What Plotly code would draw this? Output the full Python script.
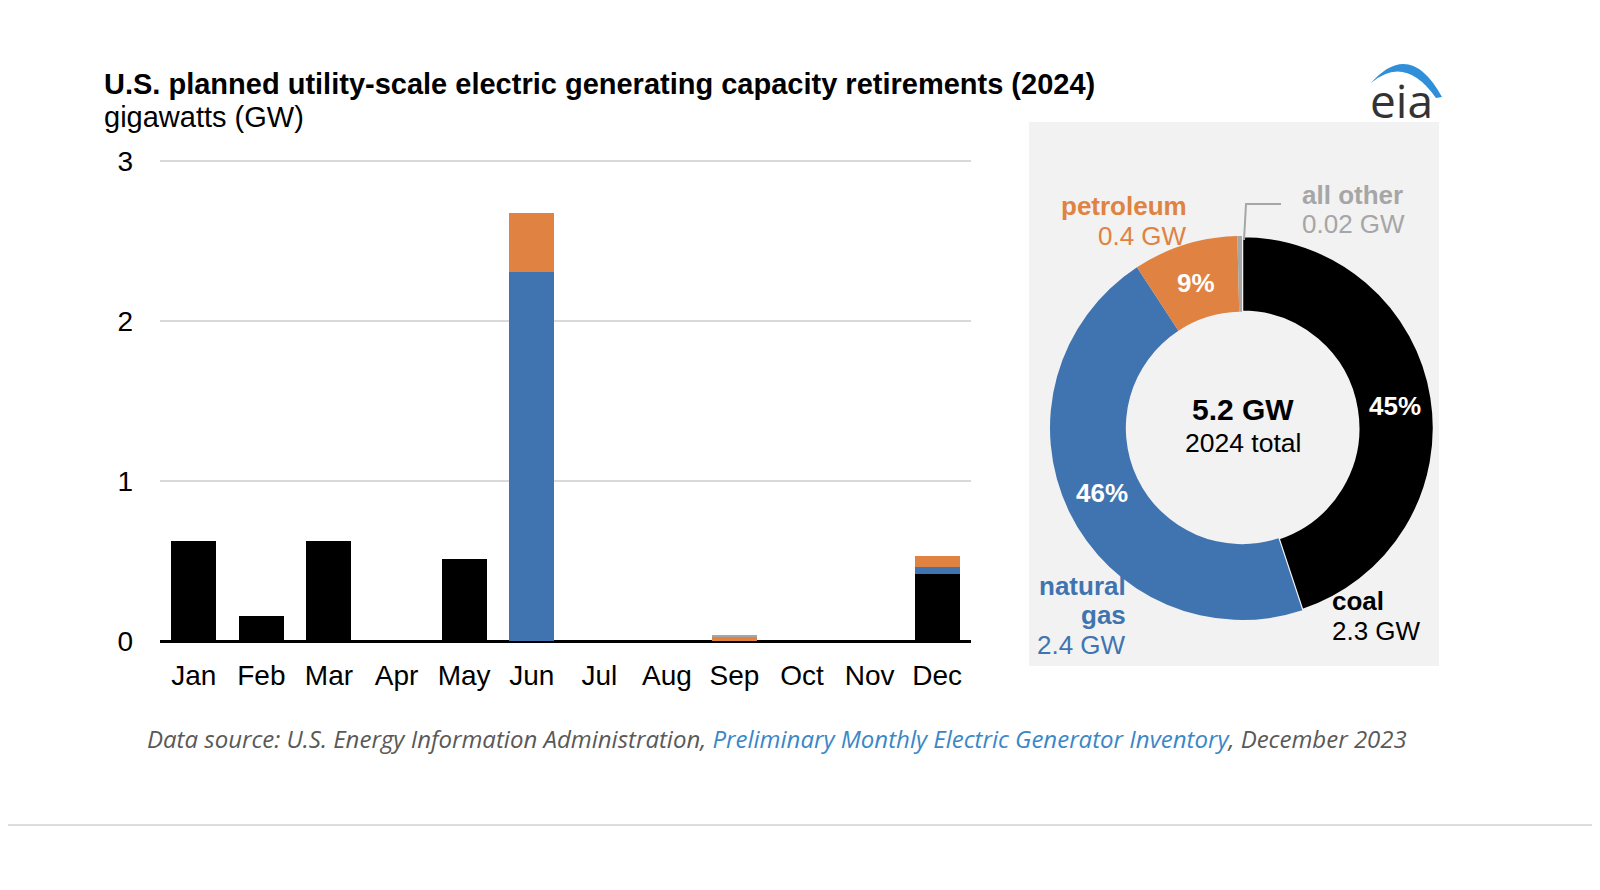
import plotly.graph_objects as go

# page body has an 8px default margin: build a 1584x874 figure placed at (8,8)
OFF = 8
W, H = 1600 - 2 * OFF, 890 - 2 * OFF

months = ["Jan", "Feb", "Mar", "Apr", "May", "Jun", "Jul", "Aug", "Sep", "Oct", "Nov", "Dec"]
coal = [0.625, 0.158, 0.625, 0, 0.51, 0, 0, 0, 0, 0, 0, 0.42]
natural_gas = [0, 0, 0, 0, 0, 2.305, 0, 0, 0, 0, 0, 0.044]
petroleum = [0, 0, 0, 0, 0, 0.37, 0, 0, 0.025, 0, 0, 0.065]
all_other = [0, 0, 0, 0, 0, 0, 0, 0, 0.008, 0, 0, 0]

donut_labels = ["coal", "natural gas", "petroleum", "all other"]
donut_values = [2.34, 2.39, 0.46, 0.02]
donut_pct = ["45%", "46%", "9%", ""]

C_COAL = "#000000"
C_GAS = "#4074b0"
C_PET = "#e08241"
C_OTH = "#a6a6a6"

def px(x):
    return (x - OFF) / W

def py(y):
    return 1 - (y - OFF) / H

fig = go.Figure()
for name, vals, col in [("coal", coal, C_COAL), ("natural gas", natural_gas, C_GAS),
                        ("petroleum", petroleum, C_PET), ("all other", all_other, C_OTH)]:
    fig.add_trace(go.Bar(x=months, y=vals, name=name, marker=dict(color=col, line=dict(width=0)),
                         showlegend=False, xaxis="x", yaxis="y"))

fig.add_trace(go.Pie(labels=donut_labels, values=donut_values, hole=0.605, sort=False,
                     direction="clockwise", rotation=0, textinfo="none", showlegend=False,
                     marker=dict(colors=[C_COAL, C_GAS, C_PET, C_OTH],
                                 line=dict(color=["#f2f2f2", C_GAS, C_PET, C_OTH], width=[2.5, 0, 0, 0])),
                     domain=dict(x=[px(1242 - 192), px(1242 + 192)], y=[py(428 + 192), py(428 - 192)])))

font_main = "Liberation Sans, Arial, sans-serif"

shapes = [
    dict(type="rect", xref="paper", yref="paper", x0=px(1029), x1=px(1439), y0=py(666), y1=py(122),
         fillcolor="#f2f2f2", line=dict(width=0), layer="below"),
    dict(type="line", xref="paper", yref="paper", x0=0, x1=1, y0=py(825), y1=py(825),
         line=dict(color="#dddddd", width=2)),
    dict(type="path", xref="paper", yref="paper",
         path="M {:.5f},{:.5f} L {:.5f},{:.5f} L {:.5f},{:.5f}".format(px(1244), py(240), px(1246), py(204), px(1281), py(204)),
         line=dict(color=C_OTH, width=2)),
]
# eia logo swoosh
sw = "M {:.5f},{:.5f} Q {:.5f},{:.5f} {:.5f},{:.5f} L {:.5f},{:.5f} Q {:.5f},{:.5f} {:.5f},{:.5f} Z".format(
    px(1371), py(83), px(1410), py(39), px(1442), py(97),
    px(1436), py(98), px(1405), py(54), px(1371), py(83))
shapes.append(dict(type="path", xref="paper", yref="paper", path=sw,
                   fillcolor="#2f8fd8", line=dict(width=0)))

def ann(x, y, text, size, color="#000000", xanchor="center", bold=False, family=font_main):
    t = "<b>%s</b>" % text if bold else text
    return dict(x=px(x), y=py(y), xref="paper", yref="paper", text=t, showarrow=False,
                xanchor=xanchor, yanchor="middle", font=dict(size=size, color=color, family=family))

annotations = [
    ann(102, 84, "U.S. planned utility-scale electric generating capacity retirements (2024)", 29, xanchor="left", bold=True),
    ann(102, 117, "gigawatts (GW)", 29, xanchor="left"),
    ann(1189, 206, "petroleum", 26, C_PET, "right", True),
    ann(1189, 236, "0.4 GW", 26, C_PET, "right"),
    ann(1300, 195, "all other", 26, C_OTH, "left", True),
    ann(1300, 224, "0.02 GW", 26, C_OTH, "left"),
    ann(1128, 586, "natural", 26, C_GAS, "right", True),
    ann(1128, 615, "gas", 26, C_GAS, "right", True),
    ann(1128, 645, "2.4 GW", 26, C_GAS, "right"),
    ann(1330, 601, "coal", 26, C_COAL, "left", True),
    ann(1330, 631, "2.3 GW", 26, C_COAL, "left"),
    ann(1395, 406, donut_pct[0], 26, "#ffffff", bold=True),
    ann(1102, 493, donut_pct[1], 26, "#ffffff", bold=True),
    ann(1196, 283, donut_pct[2], 26, "#ffffff", bold=True),
    ann(1243, 410, "5.2 GW", 30, "#000000", bold=True),
    ann(1243, 443, "2024 total", 26.5, "#000000"),
    ann(1401, 100, "eia", 46, "#333333", family="Open Sans, sans-serif"),
    ann(777, 738, "<i>Data source: U.S. Energy Information Administration, "
                  "<span style='color:#3a87c8'>Preliminary Monthly Electric Generator Inventory</span>, December 2023</i>",
        24, "#595959", family="Open Sans, sans-serif"),
]

YTOP = 3.03
fig.update_layout(
    template="none",
    width=W, height=H, autosize=False,
    margin=dict(l=0, r=0, t=0, b=0, pad=0, autoexpand=False),
    paper_bgcolor="#ffffff", plot_bgcolor="#ffffff",
    barmode="stack", bargap=0.334,
    font=dict(family=font_main, color="#000000"),
    xaxis=dict(domain=[px(160), px(971)], showgrid=False, ticks="", showline=False, zeroline=False,
               automargin=False, tickfont=dict(size=28, color="#000000"), ticklabelstandoff=15,
               fixedrange=True),
    yaxis=dict(domain=[py(641), py(641 - 160 * YTOP)], range=[0, YTOP], tickvals=[0, 1, 2, 3],
               showgrid=True, gridcolor="#d9d9d9", gridwidth=2,
               zeroline=True, zerolinecolor="#000000", zerolinewidth=2.5,
               showline=False, ticks="", automargin=False, tickfont=dict(size=28, color="#000000"),
               ticklabelstandoff=26, fixedrange=True),
    shapes=shapes,
    annotations=annotations,
)

fig.write_html("out.html")
